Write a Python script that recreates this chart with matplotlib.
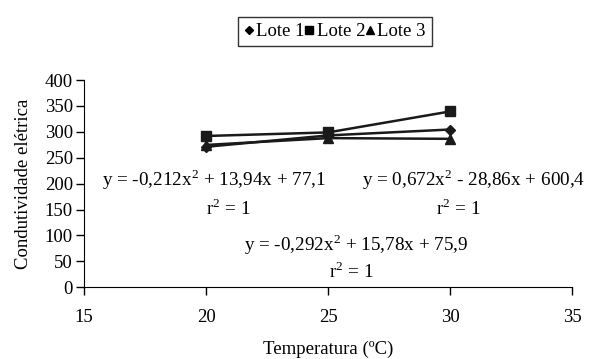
import matplotlib.pyplot as plt
from matplotlib.lines import Line2D

plt.rcParams['font.family'] = ['Liberation Serif', 'DejaVu Serif']
plt.rcParams['mathtext.fontset'] = 'custom'
plt.rcParams['mathtext.rm'] = 'Liberation Serif'

temperatura = [20, 25, 30]
lote1 = [271.1, 293.1, 304.5]
lote2 = [292.0, 298.9, 339.4]
lote3 = [274.7, 287.9, 286.5]
series_names = ['Lote 1', 'Lote 2', 'Lote 3']
markers = ['D', 's', '^']
marker_sizes = [5, 6.5, 7]

eq_texts = [
	('y = -0,212x$^{\\mathregular{2}}$ + 13,94x + 77,1', 'r$^{\\mathregular{2}}$ = 1'),
	('y = 0,672x$^{\\mathregular{2}}$ - 28,86x + 600,4', 'r$^{\\mathregular{2}}$ = 1'),
	('y = -0,292x$^{\\mathregular{2}}$ + 15,78x + 75,9', 'r$^{\\mathregular{2}}$ = 1'),
]

fig = plt.figure(figsize=(5.96, 3.59), dpi=100)
ax = fig.add_axes([0.141, 0.2, 0.819, 0.577])

for vals, m, ms in zip([lote1, lote2, lote3], markers, marker_sizes):
	ax.plot(temperatura, vals, color='#1a1a1a', lw=1.8, marker=m, markersize=ms)

ax.set_xlim(15, 35)
ax.set_ylim(0, 400)
ax.set_xticks([15, 20, 25, 30, 35])
ax.set_yticks(range(0, 401, 50))
ax.spines['top'].set_visible(False)
ax.spines['right'].set_visible(False)
ax.tick_params(labelsize=13.5, length=6, width=1, direction='out', pad=2)
ax.tick_params(axis='x', pad=10)
ax.set_xlabel('Temperatura (ºC)', fontsize=13.5)
ax.xaxis.set_label_coords(0.5, -0.258)
ax.set_ylabel('Condutividade elétrica', fontsize=13.5, labelpad=9)

# equation labels
fs = 13.8
ax.text(15.75, 207, eq_texts[0][0], fontsize=fs, va='center', ha='left')
ax.text(20.9, 152, eq_texts[0][1], fontsize=fs, va='center', ha='center')
ax.text(26.4, 207, eq_texts[1][0], fontsize=fs, va='center', ha='left')
ax.text(30.35, 152, eq_texts[1][1], fontsize=fs, va='center', ha='center')
ax.text(26.15, 82, eq_texts[2][0], fontsize=fs, va='center', ha='center')
ax.text(25.95, 30, eq_texts[2][1], fontsize=fs, va='center', ha='center')

handles = [Line2D([], [], color='black', marker=m, linestyle='none', markersize=ms * 0.9)
	for m, ms in zip(markers, marker_sizes)]
leg = fig.legend(handles, series_names, loc='center', bbox_to_anchor=(0.562, 0.912), ncol=3,
	fontsize=13.5, frameon=True, fancybox=False, handlelength=0.5, handletextpad=0.15,
	columnspacing=0.0, borderpad=0.3, borderaxespad=0)
leg.get_frame().set_edgecolor('black')
leg.get_frame().set_linewidth(1)

fig.savefig('out.png', dpi=100)
